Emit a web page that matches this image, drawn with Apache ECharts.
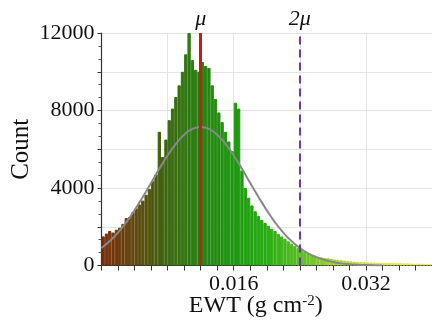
<!DOCTYPE html>
<html>
<head>
<meta charset="utf-8">
<script src="https://cdn.jsdelivr.net/npm/echarts@6/dist/echarts.min.js"></script>
<style>
  html, body { margin: 0; padding: 0; background: #ffffff; }
  #chart { width: 432px; height: 325px; }
</style>
</head>
<body>
<div id="chart"></div>
<script>
// Histogram of equivalent water thickness (EWT), 0.0004 g cm-2 bins starting at 0
const binWidth = 0.0004;
const counts = [
  1500, 1650, 1780, 1700, 1850, 1950, 2150, 2450, 2500, 2750,
  2950, 3150, 3350, 3650, 3950, 4350, 4700, 6900, 5600, 6500,
  7500, 8100, 8700, 9300, 10000, 10900, 12000, 10600, 10100, 10000,
  10500, 10300, 10200, 9300, 8600, 7900, 7400, 6900, 6400, 5900,
  8400, 8100, 4900, 4000, 3500, 3100, 2800, 2550, 2350, 2200,
  2050, 1900, 1780, 1620, 1500, 1380, 1250, 1130, 1020, 900,
  800, 700, 610, 550, 500, 450, 420, 390, 370, 340,
  310, 290, 270, 250, 230, 215, 200, 190, 180, 170,
  160, 155, 150, 145, 140, 135, 130, 128, 125, 120,
  115, 112, 110, 105, 100, 98, 95, 90, 88, 85
];

// Fitted normal curve
const curveEwt = [
  0.000, 0.001, 0.002, 0.003, 0.004, 0.005, 0.006, 0.007, 0.008, 0.009,
  0.010, 0.011, 0.012, 0.013, 0.014, 0.015, 0.016, 0.017, 0.018, 0.019,
  0.020, 0.021, 0.022, 0.023, 0.024, 0.025, 0.026, 0.027, 0.028, 0.029,
  0.030, 0.031, 0.032, 0.033, 0.034
];
const curveCount = [
  900, 1260, 1700, 2230, 2850, 3540, 4260, 4990, 5680, 6280,
  6750, 7050, 7150, 7050, 6750, 6280, 5680, 4990, 4260, 3540,
  2850, 2230, 1700, 1260, 900, 630, 430, 285, 180, 110,
  65, 38, 22, 12, 6
];

// Reference lines: mean and twice the mean
const meanEwt = 0.012;
const doubleMeanEwt = 0.024;
const refLabels = ['\u03bc', '2\u03bc'];

// Axis ticks
const xTickLabels = [0.016, 0.032];
const yTickLabels = [0, 4000, 8000, 12000];

// Bar colour ramp along EWT: brown -> green -> yellow
const colorStops = [
  [0.000, [122, 46, 12]],
  [0.004, [96, 72, 14]],
  [0.008, [58, 104, 16]],
  [0.012, [40, 130, 18]],
  [0.016, [28, 152, 14]],
  [0.020, [42, 172, 20]],
  [0.024, [88, 190, 34]],
  [0.028, [160, 208, 48]],
  [0.032, [216, 224, 64]],
  [0.040, [236, 232, 96]]
];
function rampColor(v) {
  let c = colorStops[colorStops.length - 1][1];
  for (let k = 1; k < colorStops.length; k++) {
    const [x1, c1] = colorStops[k];
    const [x0, c0] = colorStops[k - 1];
    if (v <= x1) {
      const t = (v - x0) / (x1 - x0);
      c = c0.map((a, j) => a + (c1[j] - a) * t);
      break;
    }
  }
  return 'rgb(' + c.map(Math.round).join(',') + ')';
}

const binLabels = counts.map((_, i) => String(i));
const barData = counts.map((n, i) => {
  const col = rampColor((i + 0.5) * binWidth);
  return { value: n, itemStyle: { color: col, borderColor: col, borderWidth: 1 } };
});

const serif = '"Liberation Serif", "DejaVu Serif", serif';
const chart = echarts.init(document.getElementById('chart'), null, { renderer: 'canvas' });

chart.setOption({
  animation: false,
  backgroundColor: '#ffffff',
  grid: { left: 101.5, right: 0, top: 33, bottom: 59.5, containLabel: false, outerBoundsMode: 'none' },
  xAxis: [
    {
      type: 'value',
      min: 0,
      max: binWidth * counts.length,
      interval: 0.008,
      name: 'EWT (g cm{sup|-2})',
      nameLocation: 'middle',
      nameGap: 28,
      nameMoveOverlap: false,
      nameTextStyle: {
        fontFamily: serif, fontSize: 24, color: '#111',
        padding: [0, 22, 0, 0],
        rich: { sup: { fontFamily: serif, fontSize: 15, color: '#111', padding: [0, 0, 10, 0] } }
      },
      axisLine: { show: true, onZero: false, lineStyle: { color: '#333', width: 1.2 } },
      axisTick: { show: true, length: 5, lineStyle: { color: '#333' } },
      minorTick: { show: true, splitNumber: 4, length: 5, lineStyle: { color: '#333' } },
      splitLine: { show: true, lineStyle: { color: '#e4e4e4', width: 1 } },
      axisLabel: {
        fontFamily: serif, fontSize: 22, color: '#111', margin: 8,
        formatter: v => {
          const hit = xTickLabels.find(t => Math.abs(t - v) < 1e-9);
          return hit !== undefined ? hit.toFixed(3) : '';
        }
      }
    },
    {
      type: 'category',
      data: binLabels,
      boundaryGap: true,
      show: false
    }
  ],
  yAxis: {
    type: 'value',
    min: 0,
    max: 12000,
    interval: 2000,
    name: 'Count',
    nameLocation: 'middle',
    nameGap: 68,
    nameMoveOverlap: false,
    nameTextStyle: { fontFamily: serif, fontSize: 25, color: '#111' },
    axisLine: { show: true, lineStyle: { color: '#333', width: 1.2 } },
    axisTick: { show: true, length: 4, lineStyle: { color: '#333' } },
    minorTick: { show: true, splitNumber: 3, length: 3, lineStyle: { color: '#555' } },
    splitLine: { show: true, lineStyle: { color: '#e4e4e4', width: 1 } },
    axisLabel: {
      fontFamily: serif, fontSize: 22, color: '#111', margin: 7,
      formatter: v => (yTickLabels.indexOf(v) >= 0 ? String(v) : '')
    }
  },
  series: [
    {
      type: 'bar',
      xAxisIndex: 1,
      data: barData,
      barCategoryGap: '0%',
      clip: false,
      z: 2
    },
    {
      type: 'line',
      xAxisIndex: 0,
      data: curveEwt.map((x, i) => [x, curveCount[i]]),
      smooth: true,
      symbol: 'none',
      lineStyle: { color: '#888888', width: 2 },
      z: 3,
      markLine: {
        silent: true,
        symbol: 'none',
        animation: false,
        precision: 6,
        label: {
          show: true,
          position: 'end',
          distance: 3,
          fontFamily: serif,
          fontStyle: 'italic',
          fontSize: 22,
          color: '#111'
        },
        data: [
          { xAxis: meanEwt, label: { formatter: refLabels[0] },
            lineStyle: { color: '#cc1a12', width: 3, type: 'solid' } },
          { xAxis: doubleMeanEwt, label: { formatter: refLabels[1] },
            lineStyle: { color: '#6a3aa0', width: 2, type: [8, 5] } }
        ]
      }
    }
  ]
});
</script>
</body>
</html>
